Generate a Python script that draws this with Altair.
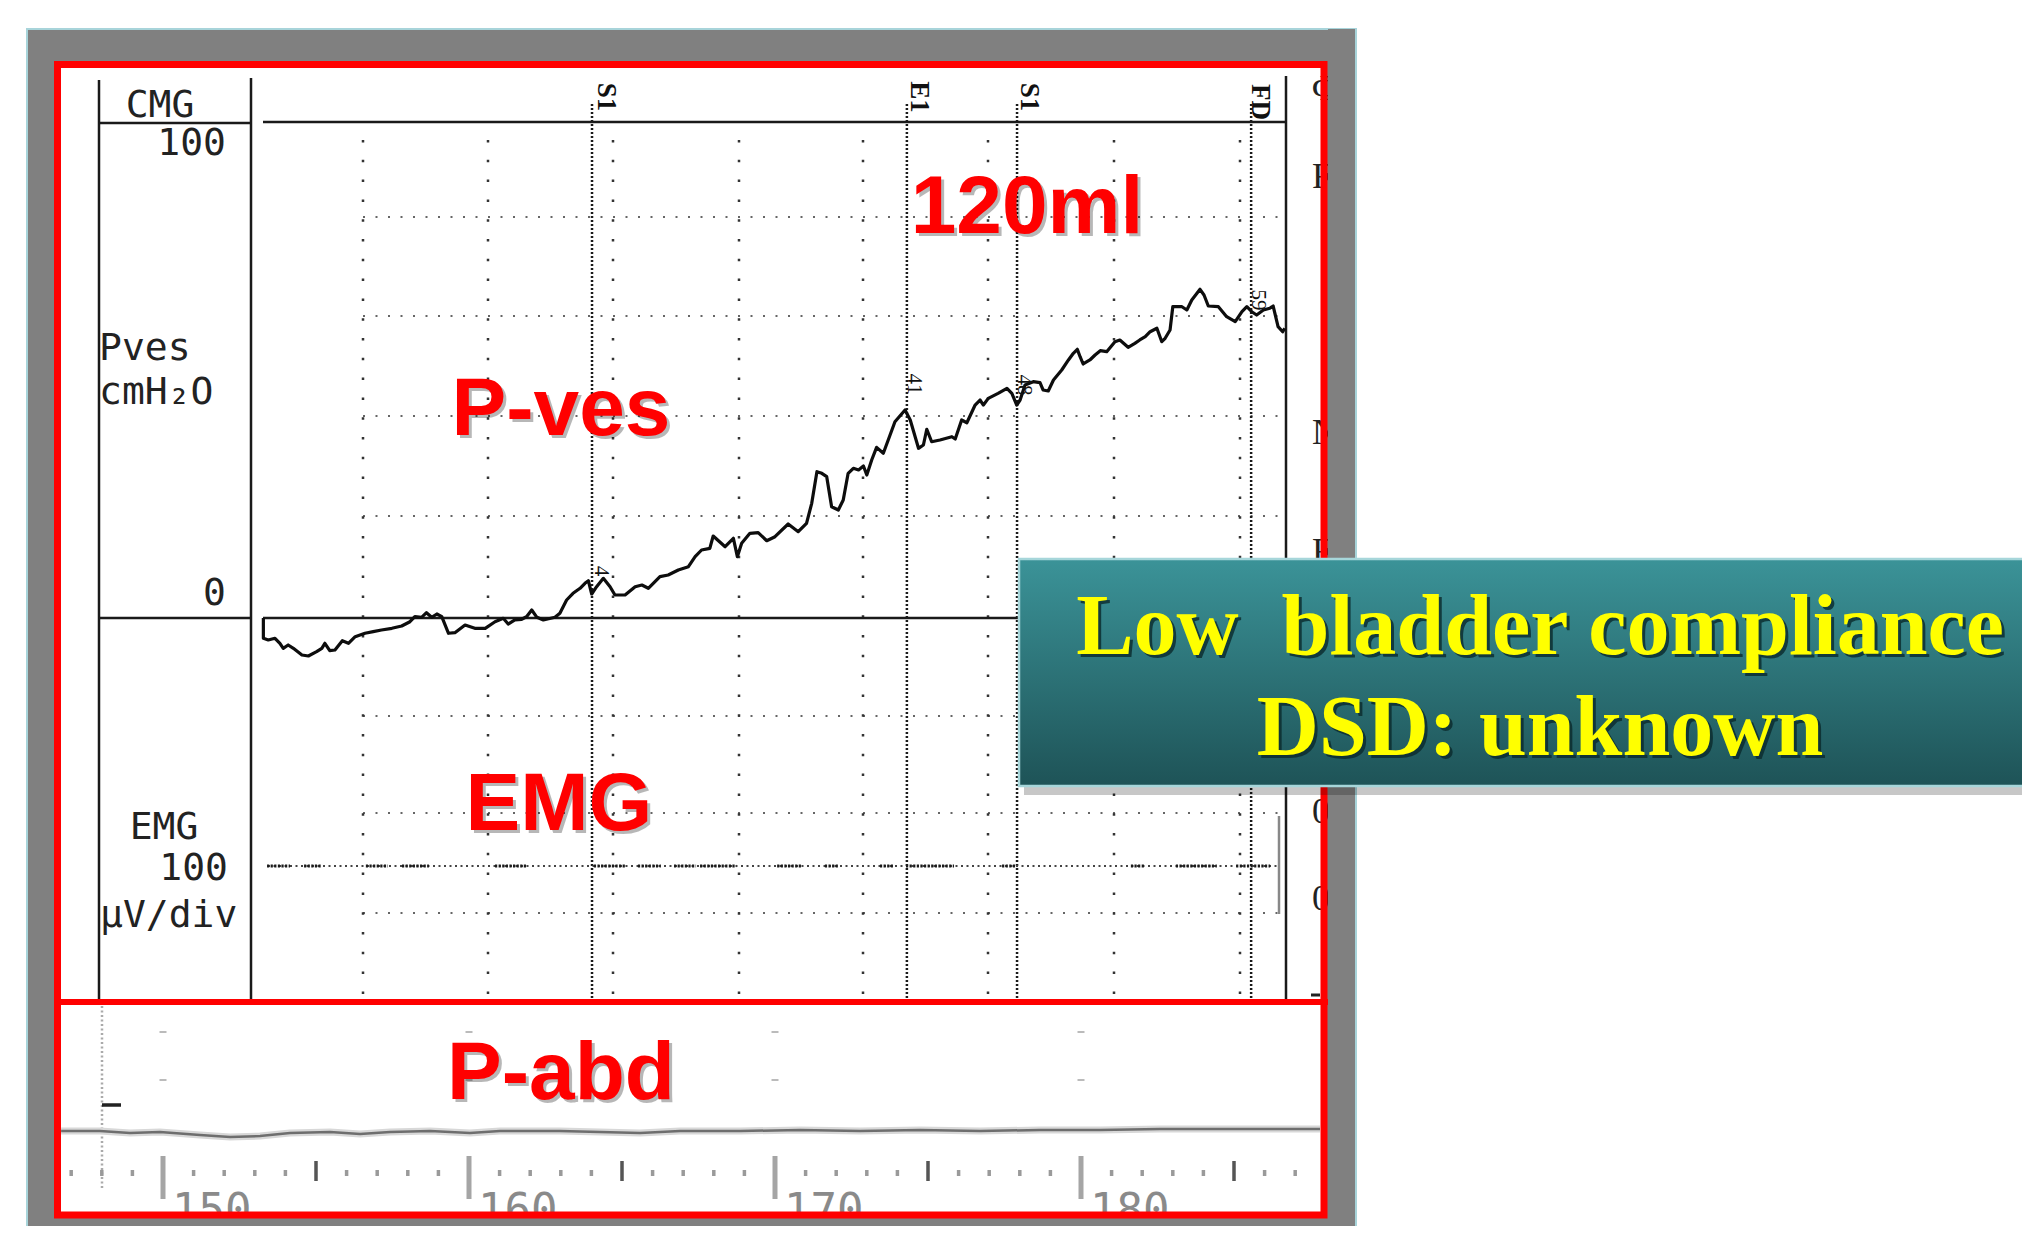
import altair as alt
import pandas as pd

# ---------------------------------------------------------------- data
# Pves trace: time (s) and pressure (cmH2O)
trace_time = [153.28, 153.28, 153.44, 153.66, 153.82, 153.93, 154.09, 154.26, 154.54, 154.75,
              155.02, 155.19, 155.29, 155.45, 155.62, 155.86, 156.06, 156.28, 156.60, 156.87,
              157.14, 157.48, 157.80, 158.07, 158.23, 158.45, 158.61, 158.78, 158.95, 159.11,
              159.33, 159.54, 159.87, 160.19, 160.53, 160.85, 161.12, 161.28, 161.50, 161.72,
              161.88, 162.05, 162.22, 162.43, 162.81, 162.97, 163.19, 163.40, 163.63, 163.79,
              163.90, 164.01, 164.17, 164.39, 164.61, 164.77, 165.10, 165.43, 165.65, 165.86,
              166.24, 166.51, 166.84, 167.17, 167.39, 167.60, 167.87, 167.98, 168.37, 168.64,
              168.77, 168.91, 169.18, 169.45, 169.73, 170.00, 170.43, 170.76, 171.03, 171.20,
              171.37, 171.53, 171.69, 171.85, 172.07, 172.23, 172.39, 172.56, 172.73, 172.89,
              173.00, 173.16, 173.32, 173.54, 173.70, 173.92, 174.25, 174.42, 174.69, 174.85,
              174.96, 175.12, 175.39, 175.78, 175.89, 176.10, 176.27, 176.54, 176.70, 176.81,
              176.97, 177.29, 177.58, 177.74, 177.90, 178.01, 178.17, 178.44, 178.66, 178.76,
              178.93, 179.10, 179.37, 179.59, 179.75, 179.88, 179.97, 180.07, 180.29, 180.46,
              180.63, 180.84, 181.11, 181.27, 181.54, 181.76, 181.92, 182.10, 182.26, 182.48,
              182.64, 182.75, 182.91, 183.00, 183.30, 183.46, 183.62, 183.89, 184.02, 184.16,
              184.49, 184.76, 185.04, 185.26, 185.42, 185.58, 185.74, 185.96, 186.17, 186.28,
              186.44, 186.59, 186.66]
trace_pves = [0.0, -4.09, -4.44, -4.09, -5.10, -6.11, -5.44, -6.11, -7.46, -7.66,
              -6.79, -6.11, -5.10, -6.59, -6.45, -4.58, -5.10, -3.77, -3.08, -2.76,
              -2.42, -2.08, -1.61, -0.75, 0.26, 0.14, 1.07, 0.14, 0.81, 0.26,
              -3.08, -2.96, -1.41, -2.08, -2.08, -0.75, -0.06, -1.21, -0.40, -0.26,
              0.26, 1.61, 0.14, -0.40, 0.14, 0.95, 3.63, 4.98, 5.99, 7.00,
              7.52, 4.84, 6.31, 8.00, 6.31, 4.64, 4.64, 6.31, 6.65, 5.99,
              8.33, 8.67, 9.68, 10.34, 12.36, 13.71, 14.05, 16.53, 14.37, 16.07,
              12.36, 15.06, 17.08, 17.20, 15.58, 16.39, 18.95, 17.40, 19.09, 23.12,
              29.50, 29.17, 28.49, 22.44, 21.77, 23.79, 29.17, 30.18, 29.84, 30.65,
              28.83, 31.85, 34.41, 33.21, 35.89, 39.58, 41.94, 39.92, 34.21, 34.88,
              38.05, 35.54, 35.89, 36.55, 36.09, 39.92, 39.37, 42.94, 43.95, 42.94,
              44.29, 45.30, 46.31, 45.30, 42.94, 43.95, 46.98, 47.64, 47.44, 45.97,
              45.77, 47.98, 50.00, 52.02, 53.37, 54.17, 52.68, 51.21, 52.02, 53.02,
              53.89, 53.69, 55.71, 56.05, 54.58, 55.38, 56.05, 56.71, 57.72, 58.41,
              55.71, 56.39, 58.06, 62.76, 62.76, 62.10, 64.11, 66.27, 65.12, 62.90,
              62.76, 60.75, 59.74, 61.75, 62.76, 61.75, 61.09, 62.10, 62.44, 62.90,
              58.73, 57.72, 58.41]

# event markers (s) and their labels, with the pressure readouts printed at them
event_time = [164.02, 174.31, 177.91, 185.56]
event_label = ["S1", "E1", "S1", "FD"]
readout_text = ["4", "41", "48", "59"]

# EMG: stretches of denser activity (s)
emg_burst_start = [153.40, 154.61, 156.63, 157.81, 160.85, 164.08, 165.52, 166.70, 167.55, 170.07,
                   171.63, 173.43, 174.28, 177.42, 181.63, 183.10, 185.07]
emg_burst_end = [154.15, 155.16, 157.35, 158.69, 161.90, 165.10, 166.27, 167.42, 168.73, 170.85,
                 172.09, 173.86, 175.85, 177.88, 182.09, 184.44, 186.18]

# P-abd strip trace (s, cmH2O relative to its own baseline)
pabd_time = [146.67, 147.94, 148.92, 149.90, 151.21, 152.19, 153.17, 154.15, 155.46, 156.44,
             157.42, 158.73, 160.03, 161.01, 162.97, 164.28, 165.59, 166.90, 168.86, 170.82,
             172.78, 174.74, 176.70, 178.66, 180.62, 182.58, 184.54, 185.85, 187.81]
pabd_value = [0.0, 0.0, -0.40, -0.20, -0.81, -1.21, -1.01, -0.40, -0.20, -0.60,
              -0.20, 0.0, -0.40, 0.0, 0.0, -0.20, -0.40, 0.0, 0.0, 0.20,
              0.0, 0.20, 0.0, 0.20, 0.20, 0.40, 0.40, 0.40, 0.40]

# bottom time axis (s)
axis_major = [150, 160, 170, 180]
axis_label = ["150", "160", "170", "180"]
axis_medium = [155, 165, 175, 185]
axis_minor = [t for t in range(147, 188) if t % 5 != 0]

# ---------------------------------------------------------------- layout (page pixels)
PX_PER_S = 30.6
X_AT_150 = 163.0
PX_PER_CM = 4.96
Y_AT_0 = 618.0


def tx(X):
    return 150 + (X - X_AT_150) / PX_PER_S


def tpx(t):
    return X_AT_150 + (t - 150) * PX_PER_S


def vy(Y):
    return (Y_AT_0 - Y) / PX_PER_CM


XS = alt.Scale(domain=[tx(8), tx(2022)], nice=False, zero=False)
YS = alt.Scale(domain=[vy(1226), vy(8)], nice=False, zero=False)


def X(f):
    return alt.X(f, type="quantitative", scale=XS, axis=None)


def Y(f):
    return alt.Y(f, type="quantitative", scale=YS, axis=None)


def seg_df(rows):
    return pd.DataFrame({"x1": [tx(r[0]) for r in rows], "y1": [vy(r[1]) for r in rows],
                         "x2": [tx(r[2]) for r in rows], "y2": [vy(r[3]) for r in rows]})


def rules(rows, **kw):
    return alt.Chart(seg_df(rows)).mark_rule(**kw).encode(
        x=X("x1"), x2="x2:Q", y=Y("y1"), y2="y2:Q")


def rects(rows, **kw):
    return alt.Chart(seg_df(rows)).mark_rect(**kw).encode(
        x=X("x1"), x2="x2:Q", y=Y("y1"), y2="y2:Q")


def texts(xs, ys, labels, **kw):
    df = pd.DataFrame({"x": [tx(v) for v in xs], "y": [vy(v) for v in ys], "t": labels})
    return alt.Chart(df).mark_text(**kw).encode(x=X("x"), y=Y("y"), text="t:N")


MONO = "DejaVu Sans Mono"
SERIF = "Liberation Serif"
SANS = "Liberation Sans"

layers = []

# frame and panel
layers.append(rects([(27, 29, 1356, 1250)], color="#808080", stroke="#a8d4da", strokeWidth=2))
layers.append(rects([(58, 65, 1323, 1214)], color="#ffffff"))

# grid
hgrid_y = [217, 316, 416, 516, 716, 813, 913]
layers.append(rules([(363, y, 1282, y) for y in hgrid_y], color="#666666", strokeWidth=2,
                    strokeDash=[2, 10.5]))
vgrid_x = [363, 488, 613, 739, 863, 988, 1114, 1240]
layers.append(rules([(x, 140, x, 999) for x in vgrid_x], color="#333333", strokeWidth=2.5,
                    strokeDash=[2.5, 17.3]))

# event lines
ev_df = pd.DataFrame({"x1": event_time, "y1": [vy(104)] * 4, "y2": [vy(999)] * 4})
layers.append(alt.Chart(ev_df).mark_rule(color="#1a1a1a", strokeWidth=2.5, strokeDash=[2, 2]).encode(
    x=X("x1"), y=Y("y1"), y2="y2:Q"))

# solid frame lines of the recorder
solid = [(99, 80, 99, 999), (251, 78, 251, 999), (1286, 76, 1286, 999),
         (99, 123, 251, 123), (263, 122, 1286, 122),
         (99, 618, 251, 618), (263, 618, 1286, 618)]
layers.append(rules(solid, color="#1a1a1a", strokeWidth=2.5))
layers.append(rules([(1279, 816, 1279, 914)], color="#888888", strokeWidth=2.5))
layers.append(rules([(1311, 995, 1320, 995)], color="#222222", strokeWidth=3))

# Pves trace
tr_df = pd.DataFrame({"t": trace_time, "p": trace_pves, "i": list(range(len(trace_time)))})
layers.append(alt.Chart(tr_df).mark_line(color="#0d0d0d", strokeWidth=3.2, strokeJoin="round").encode(
    x=X("t"), y=Y("p"), order="i:Q"))

# EMG
EMG_Y = 866
layers.append(rules([(268, EMG_Y, 1280, EMG_Y)], color="#444444", strokeWidth=2.2, strokeDash=[2, 3.5]))
emg_df = pd.DataFrame({"x1": emg_burst_start, "x2": emg_burst_end,
                       "y1": [vy(EMG_Y)] * len(emg_burst_start)})
layers.append(alt.Chart(emg_df).mark_rule(color="#1a1a1a", strokeWidth=3, strokeDash=[2.2, 1.4]).encode(
    x=X("x1"), x2="x2:Q", y=Y("y1")))

# P-abd strip
layers.append(rules([(102, 1006, 102, 1190)], color="#aaaaaa", strokeWidth=2.5, strokeDash=[2, 2.5]))
layers.append(rules([(102, 1105, 121, 1105)], color="#222222", strokeWidth=3.5))
marks = []
for t in axis_major:
    for yy in (1032, 1080):
        marks.append((tpx(t) - 3.5, yy, tpx(t) + 3.5, yy))
layers.append(rules(marks, color="#bbbbbb", strokeWidth=2))
PABD_BASE = vy(1131)
pabd_df = pd.DataFrame({"t": pabd_time, "p": [v + PABD_BASE for v in pabd_value]})
layers.append(alt.Chart(pabd_df).mark_line(color="#d8d8d8", strokeWidth=7).encode(
    x=X("t"), y=Y("p")))
layers.append(alt.Chart(pabd_df).mark_line(color="#6e6e6e", strokeWidth=2.5).encode(
    x=X("t"), y=Y("p")))


def tick_layer(values, y_top, y_bot, **kw):
    df = pd.DataFrame({"x1": values, "y1": [vy(y_top)] * len(values), "y2": [vy(y_bot)] * len(values)})
    return alt.Chart(df).mark_rule(**kw).encode(x=X("x1"), y=Y("y1"), y2="y2:Q")


layers.append(tick_layer(axis_minor, 1170, 1176, color="#9a9a9a", strokeWidth=3.5))
layers.append(tick_layer(axis_medium, 1161, 1181, color="#555555", strokeWidth=3.5))
layers.append(tick_layer(axis_major, 1156, 1199, color="#a5a5a5", strokeWidth=5))
lab_df = pd.DataFrame({"x": axis_major, "y": [vy(1190)] * 4, "t": axis_label})
layers.append(alt.Chart(lab_df).mark_text(align="left", baseline="top", dx=9, font=MONO, fontSize=44,
                                          color="#8a8a8a").encode(x=X("x"), y=Y("y"), text="t:N"))

# left channel labels
lp = dict(font=MONO, fontSize=38, color="#222222", baseline="alphabetic")
layers.append(texts([160], [117], ["CMG"], align="center", **lp))
layers.append(texts([226], [155], ["100"], align="right", **lp))
layers.append(texts([99], [360], ["Pves"], align="left", **lp))
layers.append(texts([99], [404], ["cmH₂O"], align="left", **lp))
layers.append(texts([226], [605], ["0"], align="right", **lp))
layers.append(texts([164], [839], ["EMG"], align="center", **lp))
layers.append(texts([228], [880], ["100"], align="right", **lp))
layers.append(texts([100], [927], ["µV/div"], align="left", **lp))

# event labels and readouts (rotated)
layers.append(texts([606, 919, 1029, 1260], [97, 97, 97, 102], event_label, align="center",
                    baseline="middle", angle=90, font=SERIF, fontSize=27, fontWeight="bold",
                    color="#111111"))
layers.append(texts([601, 914, 1024, 1258], [571, 384, 385, 300], readout_text, align="center",
                    baseline="middle", angle=90, font=SERIF, fontSize=21, color="#111111"))

# cut-off glyphs at the right edge of the recording
layers.append(texts([1312] * 6, [100, 188, 444, 563, 823, 910], ["Φ", "F", "N", "F", "0", "0"],
                    align="left", baseline="alphabetic", font=SERIF, fontSize=36, color="#222222"))

# overlays that crop the recording
layers.append(rects([(28, 1218, 1355, 1250), (1328, 29, 1355, 1250)], color="#808080"))
layers.append(rects([(57.5, 64.5, 1324, 1215)], color="#ffffff", fillOpacity=0, stroke="#ff0000",
                    strokeWidth=7))
layers.append(rules([(54, 1002, 1328, 1002)], color="#ff0000", strokeWidth=6))

# teal note box
layers.append(rects([(1024, 565, 2040, 795)], color="#000000", opacity=0.22))
teal = {"gradient": "linear", "x1": 0, "x2": 0, "y1": 0, "y2": 1,
        "stops": [{"offset": 0, "color": "#3b9398"}, {"offset": 1, "color": "#1e5357"}]}
layers.append(rects([(1019, 559, 2040, 786)], fill=teal, stroke="#a6d6da", strokeWidth=2.5))
note_lines = ["Low\u00a0 bladder compliance", "DSD: unknown"]
note_kw = dict(align="center", baseline="alphabetic", font=SERIF, fontSize=86, fontWeight="bold")
layers.append(texts([1540, 1540], [654, 755], note_lines, color="#0b2a2c", opacity=0.8, dx=3, dy=3,
                    **note_kw))
layers.append(texts([1540, 1540], [654, 755], note_lines, color="#ffff00", **note_kw))

# red channel captions
cap_x = [1027, 561, 559, 561]
cap_y = [233, 435, 830, 1099]
cap_t = ["120ml", "P-ves", "EMG", "P-abd"]
cap_kw = dict(align="center", baseline="alphabetic", font=SANS, fontSize=82, fontWeight="bold")
layers.append(texts(cap_x, cap_y, cap_t, color="#000000", opacity=0.28, dx=3, dy=3, **cap_kw))
layers.append(texts(cap_x, cap_y, cap_t, color="#ff0000", **cap_kw))

chart = alt.layer(*layers).properties(
    width=2014, height=1218, padding=0,
    autosize=alt.AutoSizeParams(type="none"),
).configure_view(strokeWidth=0)

chart.save("out.html", embed_options={"renderer": "svg", "actions": False})
